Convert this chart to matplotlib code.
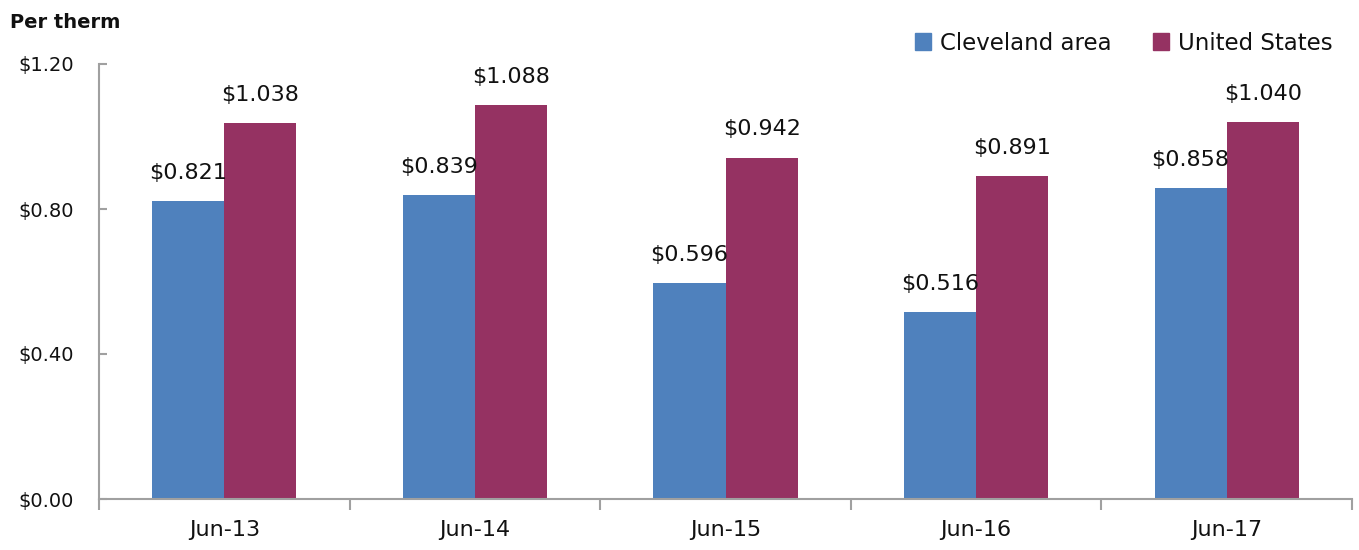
import matplotlib
matplotlib.use("Agg")
import matplotlib.pyplot as plt
import numpy as np
from matplotlib.patches import Patch

categories = ["Jun-13", "Jun-14", "Jun-15", "Jun-16", "Jun-17"]
cleveland = [0.821, 0.839, 0.596, 0.516, 0.858]
united_states = [1.038, 1.088, 0.942, 0.891, 1.040]
y_ticks = [0.0, 0.4, 0.8, 1.2]
y_labels = ["$0.00", "$0.40", "$0.80", "$1.20"]

blue = "#4F81BD"
maroon = "#953262"
gray = "#A0A0A0"
text_color = "#111111"

plt.rcParams['font.family'] = ['DejaVu Sans']

fig = plt.figure(figsize=(13.59, 5.5), dpi=100)
ax = fig.add_axes([99/1359, 1-499/550, (1352-99)/1359, (499-64)/550])

x = np.arange(len(categories))
w = 0.288
b1 = ax.bar(x - w/2, cleveland, w, color=blue, label="Cleveland area")
b2 = ax.bar(x + w/2, united_states, w, color=maroon, label="United States")

for rect, v in zip(b1, cleveland):
    ax.annotate(f"${v:.3f}", (rect.get_x() + rect.get_width()/2, v),
                xytext=(0, 13), textcoords="offset points",
                ha="center", va="bottom", fontsize=16, color=text_color)
for rect, v in zip(b2, united_states):
    ax.annotate(f"${v:.3f}", (rect.get_x() + rect.get_width()/2, v),
                xytext=(0, 13), textcoords="offset points",
                ha="center", va="bottom", fontsize=16, color=text_color)

ax.set_xlim(-0.5, len(categories) - 0.5)
ax.set_ylim(0, 1.2)
ax.set_yticks(y_ticks)
ax.set_yticklabels(y_labels, fontsize=14, color=text_color)
ax.tick_params(axis='y', direction='in', length=6, width=1.5, color=gray, pad=18)

ax.set_xticks(x)
ax.set_xticklabels(categories, fontsize=16, color=text_color)
ax.set_xticks(np.arange(-0.5, len(categories)), minor=True)
ax.tick_params(axis='x', which='major', length=0, pad=15)
ax.tick_params(axis='x', which='minor', direction='out', length=8, width=1.5, color=gray)

for s in ['top', 'right']:
    ax.spines[s].set_visible(False)
for s in ['left', 'bottom']:
    ax.spines[s].set_color(gray)
    ax.spines[s].set_linewidth(1.5)

fig.text(10/1359, 1-22/550, "Per therm", fontsize=14, fontweight='bold',
         color=text_color, ha='left', va='center')

handles = [Patch(color=blue, label="Cleveland area"), Patch(color=maroon, label="United States")]
fig.legend(handles=handles, loc='center right', bbox_to_anchor=(1333/1359, 1-43/550),
           ncol=2, frameon=False, fontsize=16.5, handlelength=0.7, handleheight=0.7,
           handletextpad=0.4, columnspacing=1.8, labelcolor=text_color,
           borderaxespad=0, borderpad=0)

fig.savefig("out.png", dpi=100)
